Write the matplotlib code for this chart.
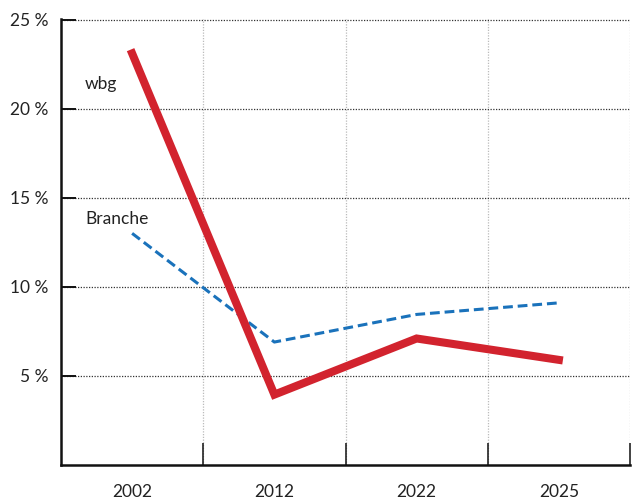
import matplotlib
matplotlib.use("Agg")
import matplotlib.pyplot as plt
from matplotlib.ticker import FixedLocator

plt.rcParams['font.family'] = ['Lato', 'DejaVu Sans']

years = ['2002', '2012', '2022', '2025']
wbg = [23.1, 3.95, 7.1, 5.9]
branche = [13.0, 6.9, 8.45, 9.1]
yticks = [5, 10, 15, 20, 25]

fig = plt.figure(figsize=(6.34, 5.01), dpi=100)
ax = fig.add_axes([61/634, 36/501, 569/634, 446/501])

x = list(range(len(years)))
ax.plot(x, branche, color='#1a72bb', lw=2.2, ls=(0, (3.2, 1.6)), zorder=3)
ax.plot(x, wbg, color='#d2232e', lw=5.8, solid_joinstyle='miter', zorder=4)

ax.text(-0.33, 21.4, 'wbg', fontsize=12.5, color='#222222', va='center')
ax.text(-0.33, 13.8, 'Branche', fontsize=12.5, color='#222222', va='center')

ax.set_xlim(-0.5, 3.5)
ax.set_ylim(0, 25.03)

ax.set_xticks(x)
ax.set_xticklabels(years)
ax.xaxis.set_minor_locator(FixedLocator([0.5, 1.5, 2.5, 3.5]))
ax.tick_params(axis='x', which='major', length=0, pad=14, labelsize=12.5, labelcolor='#222222')
ax.tick_params(axis='x', which='minor', direction='in', length=16, width=1.1, color='#111111')

ax.set_yticks(yticks)
ax.set_yticklabels([f'{v} %' for v in yticks])
ax.tick_params(axis='y', which='major', direction='in', length=11, width=1.4, color='#111111',
               pad=9, labelsize=12.5, labelcolor='#222222')

ax.grid(axis='y', which='major', ls=(0, (1, 1.2)), color='#333333', lw=0.9)
ax.grid(axis='x', which='minor', ls=(0, (1, 1.2)), color='#bbbbbb', lw=0.9)
ax.set_axisbelow(True)

for s in ['top', 'right']:
    ax.spines[s].set_visible(False)
for s in ['left', 'bottom']:
    ax.spines[s].set_linewidth(1.8)
    ax.spines[s].set_color('#111111')

fig.savefig('out.png', dpi=100)
